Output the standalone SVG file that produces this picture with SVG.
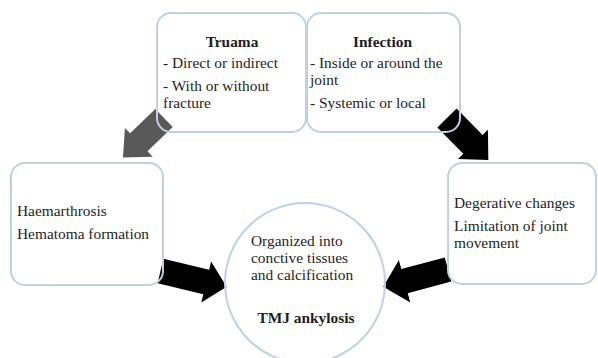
<svg xmlns="http://www.w3.org/2000/svg" width="598" height="358" viewBox="0 0 598 358">
<style>
.box{fill:none;stroke:#bed0e8;stroke-width:2}
text{font-family:'Liberation Serif','Times New Roman','DejaVu Serif',serif;font-size:15.4px;fill:#1e1e1e}
.b{font-weight:bold}
.arr{fill:#000}
.gray{fill:#595959}
</style>
<rect x="0" y="0" width="598" height="358" fill="#fff"/>
<g id="connectors">
<polygon class="gray" transform="translate(164,118) rotate(136)" points="0,-12.5 35,-12.5 35,-20 57,0 35,20 35,12.5 0,12.5"/>
<polygon class="arr" transform="translate(447,118) rotate(45.5)" points="0,-13.5 37,-13.5 37,-21 59,0 37,21 37,13.5 0,13.5"/>
<polygon class="arr" transform="translate(160.5,271) rotate(13.5)" points="0,-12.5 47,-12.5 47,-21 68,0 47,21 47,12.5 0,12.5"/>
<polygon class="arr" transform="translate(448,269.5) rotate(165)" points="0,-12.5 45,-12.5 45,-22 67,0 45,22 45,12.5 0,12.5"/>
</g>
<g id="truama" font-family="Liberation Serif, serif">
<rect class="box" x="157" y="13" width="149" height="119" rx="14"/>
<text class="b" x="232" y="47" text-anchor="middle">Truama</text>
<text x="163" y="68">- Direct or indirect</text>
<text x="163" y="91">- With or without</text>
<text x="163" y="108">fracture</text>
</g>
<g id="infection" font-family="Liberation Serif, serif">
<rect class="box" x="307" y="13" width="153" height="119" rx="14"/>
<text class="b" x="382.5" y="47" text-anchor="middle">Infection</text>
<text x="310" y="68">- Inside or around the</text>
<text x="310" y="85">joint</text>
<text x="310" y="108">- Systemic or local</text>
</g>
<g id="haemarthrosis" font-family="Liberation Serif, serif">
<rect class="box" x="11" y="163" width="152" height="122" rx="14"/>
<text x="17" y="216">Haemarthrosis</text>
<text x="17" y="239">Hematoma formation</text>
</g>
<g id="degenerative" font-family="Liberation Serif, serif">
<rect class="box" x="448" y="163" width="148" height="121" rx="14"/>
<text x="454" y="208">Degerative changes</text>
<text x="454" y="231">Limitation of joint</text>
<text x="454" y="248">movement</text>
</g>
<g id="ankylosis" font-family="Liberation Serif, serif">
<circle class="box" cx="305" cy="283" r="80"/>
<text x="251" y="246">Organized into</text>
<text x="251" y="263">conctive tissues</text>
<text x="251" y="280">and calcification</text>
<text class="b" x="306" y="323" text-anchor="middle">TMJ ankylosis</text>
</g>
</svg>
